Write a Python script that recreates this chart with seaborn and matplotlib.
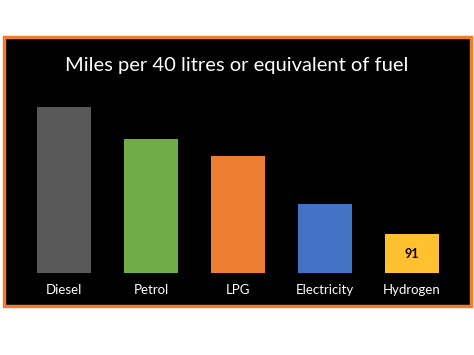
import matplotlib
matplotlib.use("Agg")
import matplotlib.pyplot as plt
import seaborn as sns
import pandas as pd
from matplotlib.patches import Rectangle

# 数据
fuels = ["Diesel", "Petrol", "LPG", "Electricity", "Hydrogen"]
miles = [387, 313, 273, 161, 91]
colors = ["#595959", "#70AD47", "#ED7D31", "#4472C4", "#FFC12F"]
title = "Miles per 40 litres or equivalent of fuel"

sns.set_style("white")
plt.rcParams['font.family'] = ['Lato', 'DejaVu Sans']

df = pd.DataFrame({"fuel": fuels, "miles": miles})

fig = plt.figure(figsize=(4.74, 3.55), dpi=100)
fig.patch.set_facecolor("white")

# 黑色背景框 + 橙色边
W, H = 474, 355
frame = Rectangle((4 / W, 1 - 306 / H), 467 / W, 269 / H, transform=fig.transFigure,
                  facecolor="black", edgecolor="#ED7D31", linewidth=2.5, zorder=-5)
fig.patches.append(frame)

ax = fig.add_axes([20.5 / W, 1 - 273 / H, 435 / W, 183 / H])
ax.set_zorder(2)
ax.set_facecolor("none")
sns.barplot(data=df, x="fuel", y="miles", hue="fuel", palette=colors,
            width=0.62, legend=False, ax=ax, saturation=1, linewidth=0)
ax.set_ylim(0, 427)
ax.set_xlim(-0.5, 4.5)
ax.set_xlabel("")
ax.set_ylabel("")
ax.set_yticks([])
ax.tick_params(axis="x", colors="white", labelsize=9.5, length=0, pad=8)
for s in ax.spines.values():
    s.set_visible(False)

# 只给氢标注数值
ax.text(4, miles[4] / 2, str(miles[4]), ha="center", va="center",
        fontsize=9, fontweight="bold", color="black")

fig.text(0.5, 1 - 65 / H, title, ha="center", va="center", color="white",
         fontsize=14.5, zorder=3)

fig.savefig("out.png", dpi=100, facecolor="white")
